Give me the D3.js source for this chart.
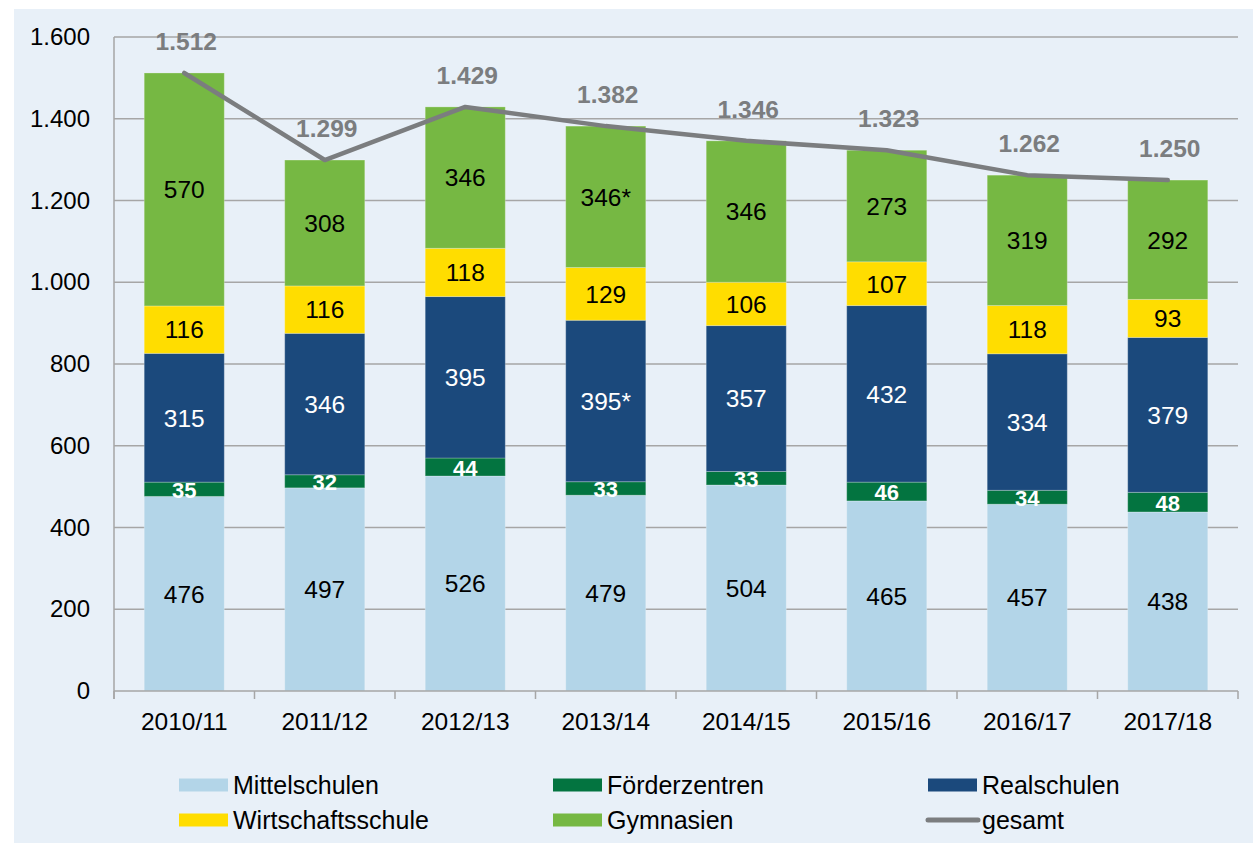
<!DOCTYPE html>
<html>
<head>
<meta charset="utf-8">
<script src="https://cdn.jsdelivr.net/npm/d3@7"></script>
<style>
  html, body { margin: 0; padding: 0; background: #ffffff; }
  svg { display: block; font-family: "Liberation Sans", Arial, sans-serif; }
</style>
</head>
<body>
<svg id="chart" width="1253" height="843"></svg>
<script>
// School years on the x axis
const years = ["2010/11", "2011/12", "2012/13", "2013/14", "2014/15", "2015/16", "2016/17", "2017/18"];

// Stacked series, bottom to top
const mittelschulen     = [476, 497, 526, 479, 504, 465, 457, 438];
const foerderzentren    = [35, 32, 44, 33, 33, 46, 34, 48];
const realschulen       = [315, 346, 395, 395, 357, 432, 334, 379];
const wirtschaftsschule = [116, 116, 118, 129, 106, 107, 118, 93];
const gymnasien         = [570, 308, 346, 346, 346, 273, 319, 292];

// Total line
const gesamt = [1512, 1299, 1429, 1382, 1346, 1323, 1262, 1250];

// Footnote markers on individual labels
const realschulenNote = ["", "", "", "*", "", "", "", ""];
const gymnasienNote   = ["", "", "", "*", "", "", "", ""];

// Y axis ticks
const yTicks = [0, 200, 400, 600, 800, 1000, 1200, 1400, 1600];

const series = [
  { name: "Mittelschulen",     values: mittelschulen,     notes: null,            color: "#b3d5e8", text: "#000000", bold: false },
  { name: "Förderzentren",     values: foerderzentren,    notes: null,            color: "#037440", text: "#ffffff", bold: true },
  { name: "Realschulen",       values: realschulen,       notes: realschulenNote, color: "#1b497c", text: "#ffffff", bold: false },
  { name: "Wirtschaftsschule", values: wirtschaftsschule, notes: null,            color: "#ffdd00", text: "#000000", bold: false },
  { name: "Gymnasien",         values: gymnasien,         notes: gymnasienNote,   color: "#76b843", text: "#000000", bold: false }
];

const svg = d3.select("#chart");
const W = 1253, H = 843;

// Panel background
svg.append("rect").attr("x", 14).attr("y", 9).attr("width", W - 14).attr("height", H - 9).attr("fill", "#e8f0f8");

const plotLeft = 114, plotRight = 1238, plotTop = 37, plotBottom = 691;

const x = d3.scaleBand().domain(years).range([plotLeft, plotRight]).paddingInner(0.43).paddingOuter(0.215);
const xc = d3.scaleBand().domain(years).range([plotLeft, plotRight]);
const y = d3.scaleLinear().domain([0, 1600]).range([plotBottom, plotTop]);

const grid = "#a6a6a6";
const fmt = d => d3.format(",")(d).replace(/,/g, ".");

// Horizontal gridlines
svg.append("g").selectAll("line").data(yTicks.filter(d => d > 0)).join("line")
  .attr("x1", plotLeft).attr("x2", plotRight)
  .attr("y1", d => y(d)).attr("y2", d => y(d))
  .attr("stroke", grid).attr("stroke-width", 1.5);

// Y axis
const yAxis = d3.axisLeft(y).tickValues(yTicks).tickSize(0).tickPadding(24).tickFormat(fmt);
const gy = svg.append("g").attr("transform", `translate(${plotLeft},0)`).call(yAxis);
gy.select(".domain").remove();
gy.selectAll("text").attr("font-size", 24).attr("fill", "#000").attr("font-family", "Liberation Sans, Arial, sans-serif");
svg.append("line").attr("x1", plotLeft).attr("x2", plotLeft).attr("y1", plotTop).attr("y2", plotBottom + 8)
  .attr("stroke", grid).attr("stroke-width", 1.5);

// Stacked bars
const stack = d3.stack().keys(series.map((s, i) => i)).value((d, k) => series[k].values[d]);
const stacked = stack(years.map((_, i) => i));

const barG = svg.append("g");
stacked.forEach((layer, k) => {
  const s = series[k];
  barG.append("g").selectAll("rect").data(layer).join("rect")
    .attr("x", (d, i) => x(years[i]))
    .attr("width", x.bandwidth())
    .attr("y", d => y(d[1]))
    .attr("height", d => y(d[0]) - y(d[1]))
    .attr("fill", s.color)
    .attr("stroke", "rgba(255,255,255,0.25)").attr("stroke-width", 1);
});

// Segment value labels
stacked.forEach((layer, k) => {
  const s = series[k];
  svg.append("g").selectAll("text").data(layer).join("text")
    .attr("x", (d, i) => x(years[i]) + x.bandwidth() / 2)
    .attr("y", d => (y(d[0]) + y(d[1])) / 2 + (s.bold ? 1 : 0))
    .attr("dy", "0.36em")
    .attr("text-anchor", "middle")
    .attr("font-size", s.bold ? 22 : 24.5)
    .attr("font-weight", s.bold ? "bold" : "normal")
    .attr("fill", s.text)
    .text((d, i) => s.values[i] + (s.notes ? s.notes[i] : ""));
});

// X axis baseline and ticks
svg.append("line").attr("x1", plotLeft).attr("x2", plotRight).attr("y1", plotBottom).attr("y2", plotBottom)
  .attr("stroke", grid).attr("stroke-width", 1.5);
const boundaries = years.map(d => xc(d)).concat([plotRight]);
svg.append("g").selectAll("line").data(boundaries).join("line")
  .attr("x1", d => d).attr("x2", d => d).attr("y1", plotBottom).attr("y2", plotBottom + 8)
  .attr("stroke", grid).attr("stroke-width", 1.5);
svg.append("g").selectAll("text").data(years).join("text")
  .attr("x", d => xc(d) + xc.bandwidth() / 2)
  .attr("y", 730)
  .attr("text-anchor", "middle")
  .attr("font-size", 24.5).attr("fill", "#000")
  .text(d => d);

// Total line
const lineColor = "#7b7d7f";
const line = d3.line().x((d, i) => xc(years[i]) + xc.bandwidth() / 2).y(d => y(d));
svg.append("path").datum(gesamt).attr("d", line)
  .attr("fill", "none").attr("stroke", lineColor).attr("stroke-width", 4.5)
  .attr("stroke-linecap", "round").attr("stroke-linejoin", "round");

// Total labels
svg.append("g").selectAll("text").data(gesamt).join("text")
  .attr("x", (d, i) => xc(years[i]) + xc.bandwidth() / 2 + 2)
  .attr("y", d => y(d) - 23)
  .attr("text-anchor", "middle")
  .attr("font-size", 24.5).attr("font-weight", "bold").attr("fill", lineColor)
  .text(fmt);

// Legend
const legendItems = [
  { name: "Mittelschulen",     color: "#b3d5e8", type: "rect", col: 0, row: 0 },
  { name: "Förderzentren",     color: "#037440", type: "rect", col: 1, row: 0 },
  { name: "Realschulen",       color: "#1b497c", type: "rect", col: 2, row: 0 },
  { name: "Wirtschaftsschule", color: "#ffdd00", type: "rect", col: 0, row: 1 },
  { name: "Gymnasien",         color: "#76b843", type: "rect", col: 1, row: 1 },
  { name: "gesamt",            color: lineColor, type: "line", col: 2, row: 1 }
];
const colX = [179, 553, 928];
const rowY = [785, 820];
const lg = svg.append("g");
legendItems.forEach(it => {
  const lx = colX[it.col], ly = rowY[it.row];
  if (it.type === "rect") {
    lg.append("rect").attr("x", lx).attr("y", ly - 6.5).attr("width", 49).attr("height", 13).attr("fill", it.color);
  } else {
    lg.append("line").attr("x1", lx).attr("x2", lx + 50).attr("y1", ly).attr("y2", ly)
      .attr("stroke", it.color).attr("stroke-width", 5).attr("stroke-linecap", "round");
  }
  lg.append("text").attr("x", lx + 54).attr("y", ly).attr("dy", "0.36em")
    .attr("font-size", 25).attr("fill", "#000").text(it.name);
});
</script>
</body>
</html>
